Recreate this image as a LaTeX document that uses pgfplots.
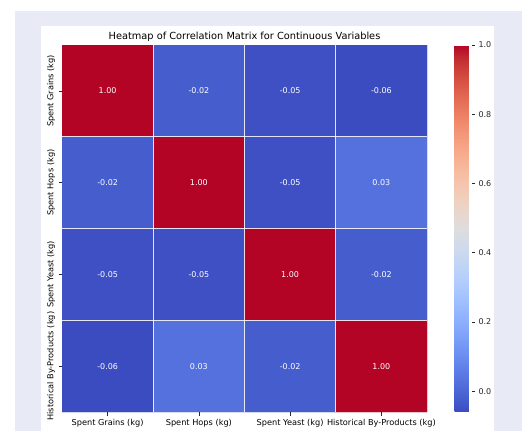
\documentclass[border=0pt]{standalone}
\usepackage{pgfplots}
\pgfplotsset{compat=1.18}
\usepackage{fontspec}
\setmainfont{DejaVu Sans}
\definecolor{bgblue}{RGB}{232,235,246}
\definecolor{tickgray}{RGB}{40,40,40}
\pgfplotsset{colormap={coolwarm}{
rgb255=(59,76,192) rgb255=(68,90,204) rgb255=(77,104,215) rgb255=(87,117,225)
rgb255=(98,130,234) rgb255=(108,142,241) rgb255=(119,154,247) rgb255=(130,165,251)
rgb255=(141,176,254) rgb255=(152,185,255) rgb255=(163,194,255) rgb255=(174,201,253)
rgb255=(184,208,249) rgb255=(194,213,244) rgb255=(204,217,238) rgb255=(213,219,230)
rgb255=(221,221,221) rgb255=(229,216,209) rgb255=(236,211,197) rgb255=(241,204,185)
rgb255=(245,196,173) rgb255=(247,187,160) rgb255=(247,177,148) rgb255=(247,166,135)
rgb255=(244,154,123) rgb255=(241,141,111) rgb255=(236,127,99) rgb255=(229,112,88)
rgb255=(222,96,77) rgb255=(213,80,66) rgb255=(203,62,56) rgb255=(192,40,47)
rgb255=(180,4,38)}}
\pgfplotstableread{
x y c
0 0 1.00
1 0 -0.02
2 0 -0.05
3 0 -0.06
0 1 -0.02
1 1 1.00
2 1 -0.05
3 1 0.03
0 2 -0.05
1 2 -0.05
2 2 1.00
3 2 -0.02
0 3 -0.06
1 3 0.03
2 3 -0.02
3 3 1.00
}\corrdata
\pgfplotstableread{
x y lab
0 0 1.00
1 0 -0.02
2 0 -0.05
3 0 -0.06
0 1 -0.02
1 1 1.00
2 1 -0.05
3 1 0.03
0 2 -0.05
1 2 -0.05
2 2 1.00
3 2 -0.02
0 3 -0.06
1 3 0.03
2 3 -0.02
3 3 1.00
}\labdata
\begin{document}
\begin{tikzpicture}
\path[use as bounding box] (0pt,0pt) rectangle (527pt,431pt);
\fill[white] (0pt,0pt) rectangle (527pt,431pt);
\fill[bgblue] (15pt,0pt) rectangle (522pt,420pt);
\fill[white] (41pt,0pt) rectangle (494pt,405pt);
\begin{axis}[
  at={(62pt,19pt)}, anchor=south west,
  scale only axis, width=365pt, height=367pt,
  xmin=-0.5, xmax=3.5, ymin=-0.5, ymax=3.5, y dir=reverse,
  axis line style={draw=none},
  xtick={0,1,2,3}, ytick={0,1,2,3},
  xticklabels={Spent Grains (kg), Spent Hops (kg), Spent Yeast (kg), Historical By-Products (kg)},
  yticklabels={Spent Grains (kg), Spent Hops (kg), Spent Yeast (kg), Historical By-Products (kg)},
  tick pos=left, tick align=outside, major tick length=3.5pt,
  tick style={tickgray, line width=0.6pt},
  xticklabel style={font=\fontsize{8.2}{9}\selectfont, text=black},
  yticklabel style={font=\fontsize{8.2}{9}\selectfont, text=black, rotate=90, anchor=south},
  minor xtick={0.5,1.5,2.5}, minor ytick={0.5,1.5,2.5}, minor tick length=0pt,
  xminorgrids=true, yminorgrids=true,
  minor grid style={white, line width=0.7pt, opacity=0.85},
  axis on top,
  title={Heatmap of Correlation Matrix for Continuous Variables},
  title style={font=\fontsize{9.8}{11}\selectfont, at={(0.5,1)}, anchor=base, yshift=-0.5pt},
  colormap name=coolwarm,
  point meta min=-0.06, point meta max=1,
  colorbar,
  colorbar style={
    at={(parent axis.north east)}, anchor=north west, xshift=19pt,
    width=17pt,
    axis line style={draw=none},
    ytick={0,0.2,0.4,0.6,0.8,1.0},
    ytick pos=right, yticklabel pos=right,
    yticklabel style={font=\fontsize{8}{9}\selectfont, text=black!85,
      /pgf/number format/.cd, fixed, fixed zerofill, precision=1, assume math mode=true},
    major tick length=3.5pt, tick align=outside,
    tick style={tickgray, line width=0.6pt},
  },
]
\addplot[matrix plot*, mesh/cols=4, point meta=explicit] table[x=x, y=y, meta=c] {\corrdata};
\addplot[only marks, mark=none, point meta=explicit symbolic, nodes near coords,
  nodes near coords style={anchor=center, text=white, font=\fontsize{8}{9}\selectfont}]
  table[x=x, y=y, meta=lab] {\labdata};
\end{axis}
\end{tikzpicture}
\end{document}
